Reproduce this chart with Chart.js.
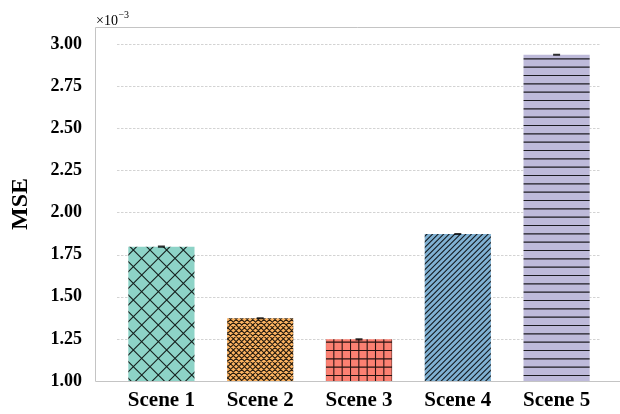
<!DOCTYPE html>
<html>
<head>
<meta charset="utf-8">
<script src="https://cdn.jsdelivr.net/npm/chart.js@4/dist/chart.umd.min.js"></script>
<style>
  html, body { margin: 0; padding: 0; background: #ffffff; }
  canvas { display: block; }
</style>
</head>
<body>
<canvas id="chart" width="620" height="414"></canvas>
<script>
// Mean squared error per scene, with its standard error
const categories = ['Scene 1', 'Scene 2', 'Scene 3', 'Scene 4', 'Scene 5'];
const mseValues = [1.797e-3, 1.372e-3, 1.247e-3, 1.872e-3, 2.935e-3];
const mseErrors = [0.003e-3, 0.003e-3, 0.003e-3, 0.003e-3, 0.003e-3];
const barColors = ['#8DD3C7', '#FDB462', '#FB8072', '#80B1D3', '#BEBADA'];
const barHatches = ['x', 'xxx', '++', '///', '--'];
const yTickValues = [1.00, 1.25, 1.50, 1.75, 2.00, 2.25, 2.50, 2.75, 3.00].map(v => v * 1e-3);
const yMin = 1.00e-3;
const yMax = 3.10e-3;

const SERIF = "'Liberation Serif', 'Times New Roman', serif";

// Build a repeating hatch tile: base fill plus line families
function makeHatch(color, hatch) {
  const T = 50;
  const c = document.createElement('canvas');
  c.width = T; c.height = T;
  const g = c.getContext('2d');
  g.fillStyle = color;
  g.fillRect(0, 0, T, T);
  g.strokeStyle = 'rgba(0,0,0,0.85)';
  g.lineWidth = 1.1;
  const count = ch => hatch.split(ch).length - 1;
  const families = [];
  const nx = count('x'), np = count('+'), ns = count('/'), nb = count('\\'), nh = count('-'), nv = count('|');
  if (nx) { families.push(['/', nx]); families.push(['\\', nx]); }
  if (np) { families.push(['-', np]); families.push(['|', np]); }
  if (ns) families.push(['/', ns]);
  if (nb) families.push(['\\', nb]);
  if (nh) families.push(['-', nh]);
  if (nv) families.push(['|', nv]);
  g.beginPath();
  families.forEach(([kind, n]) => {
    const lines = 3 * n;
    const step = T / lines;
    for (let k = -lines; k <= 2 * lines; k++) {
      const o = k * step;
      if (kind === '/') { g.moveTo(o + 10, -10); g.lineTo(o - 60, 60); }
      else if (kind === '\\') { g.moveTo(o - 10, -10); g.lineTo(o + 60, 60); }
      else if (kind === '-') { if (o >= 0 && o < T) { g.moveTo(-5, o + 0.5); g.lineTo(T + 5, o + 0.5); } }
      else if (kind === '|') { if (o >= 0 && o < T) { g.moveTo(o + 0.5, -5); g.lineTo(o + 0.5, T + 5); } }
    }
  });
  g.stroke();
  return g.createPattern(c, 'repeat');
}

const ctx = document.getElementById('chart').getContext('2d');
const patterns = barColors.map((col, i) => makeHatch(col, barHatches[i]));

// Axis frame and dashed horizontal grid, drawn behind the bars
const framePlugin = {
  id: 'frameAndGrid',
  beforeDatasetsDraw(chart) {
    const { ctx, chartArea } = chart;
    const y = chart.scales.y;
    ctx.save();
    ctx.strokeStyle = 'rgba(0,0,0,0.22)';
    ctx.lineWidth = 0.8;
    ctx.setLineDash([2.5, 1.5]);
    yTickValues.forEach(v => {
      const py = Math.round(y.getPixelForValue(v)) + 0.5;
      ctx.beginPath();
      ctx.moveTo(chartArea.left + 5, py);
      ctx.lineTo(chartArea.right - 5, py);
      ctx.stroke();
    });
    ctx.setLineDash([]);
    ctx.strokeStyle = '#c4c4c4';
    ctx.lineWidth = 1;
    const left = 95.5, top = Math.round(y.getPixelForValue(yMax)) + 0.5, bottom = Math.round(y.getPixelForValue(yMin)) + 0.5;
    ctx.beginPath();
    ctx.moveTo(620, top); ctx.lineTo(left, top); ctx.lineTo(left, bottom); ctx.lineTo(620, bottom);
    ctx.stroke();
    ctx.restore();
  }
};

// Error bars with small caps on each bar
const errorBarPlugin = {
  id: 'errorBars',
  afterDatasetsDraw(chart) {
    const { ctx } = chart;
    const y = chart.scales.y;
    const meta = chart.getDatasetMeta(0);
    ctx.save();
    ctx.strokeStyle = 'rgba(0,0,0,0.8)';
    ctx.lineWidth = 1.1;
    meta.data.forEach((bar, i) => {
      const hi = y.getPixelForValue(mseValues[i] + mseErrors[i]);
      const lo = y.getPixelForValue(mseValues[i] - mseErrors[i]);
      ctx.beginPath();
      ctx.moveTo(bar.x, hi); ctx.lineTo(bar.x, lo);
      ctx.moveTo(bar.x - 3.5, hi); ctx.lineTo(bar.x + 3.5, hi);
      ctx.moveTo(bar.x - 3.5, lo); ctx.lineTo(bar.x + 3.5, lo);
      ctx.stroke();
    });
    ctx.restore();
  }
};

// Axis title and the scale multiplier above the y axis
const labelPlugin = {
  id: 'axisText',
  afterDraw(chart) {
    const { ctx, chartArea } = chart;
    ctx.save();
    ctx.fillStyle = '#000000';
    ctx.font = 'bold 24px ' + SERIF;
    ctx.textAlign = 'center';
    ctx.textBaseline = 'middle';
    ctx.translate(21, (chartArea.top + chartArea.bottom) / 2);
    ctx.rotate(-Math.PI / 2);
    ctx.fillText('MSE', 0, 0);
    ctx.restore();

    ctx.save();
    ctx.fillStyle = '#000000';
    ctx.textAlign = 'left';
    ctx.textBaseline = 'alphabetic';
    ctx.font = '14px ' + SERIF;
    const base = chartArea.top - 2;
    const main = '\u00d710';
    ctx.fillText(main, 96, base);
    const w = ctx.measureText(main).width;
    ctx.font = '10px ' + SERIF;
    ctx.fillText('\u22123', 96 + w + 0.5, base - 7);
    ctx.restore();
  }
};

new Chart(ctx, {
  type: 'bar',
  data: {
    labels: categories,
    datasets: [{
      data: mseValues,
      backgroundColor: patterns,
      borderWidth: 0,
      barPercentage: 0.67,
      categoryPercentage: 1.0
    }]
  },
  options: {
    responsive: false,
    devicePixelRatio: 1,
    animation: false,
    layout: { padding: { top: 27, right: 14, left: 0, bottom: 0 } },
    plugins: { legend: { display: false }, tooltip: { enabled: false } },
    scales: {
      x: {
        grid: { display: false, drawTicks: false },
        border: { display: false },
        ticks: {
          color: '#000000',
          padding: 7,
          font: { family: SERIF, size: 21, weight: 'bold' }
        },
        afterFit(scale) {
          scale.height = 33;
          scale.paddingLeft = 0; scale.paddingRight = 0;
        }
      },
      y: {
        min: yMin,
        max: yMax,
        grid: { display: false, drawTicks: false },
        border: { display: false },
        afterBuildTicks(scale) { scale.ticks = yTickValues.map(v => ({ value: v })); },
        ticks: {
          color: '#000000',
          padding: 30,
          font: { family: SERIF, size: 18, weight: 'bold' },
          callback: v => (v * 1000).toFixed(2)
        },
        afterFit(scale) {
          scale.width = 112;
          scale.paddingTop = 0; scale.paddingBottom = 0;
        }
      }
    }
  },
  plugins: [framePlugin, errorBarPlugin, labelPlugin]
});
</script>
</body>
</html>
